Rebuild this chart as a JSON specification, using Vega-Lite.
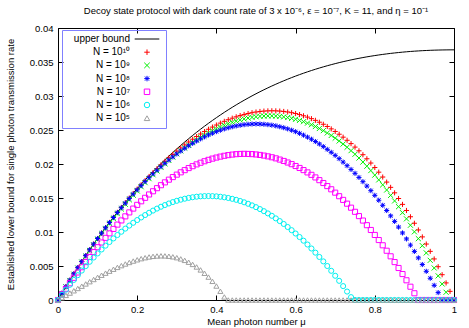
{
"$schema": "https://vega.github.io/schema/vega-lite/v6.json",
"width": 396, "height": 272,
"autosize": {"type": "none"},
"padding": {"left": 58, "top": 28, "right": 15, "bottom": 28},
"background": "white",
"config": {
  "view": {"stroke": "black", "strokeWidth": 1},
  "font": "Liberation Sans",
  "axis": {"grid": false, "domain": false, "tickColor": "black", "tickSize": -5, "tickWidth": 1, "labelColor": "black", "labelFont": "Liberation Sans", "labelFontSize": 9.5, "titleFont": "Liberation Sans", "titleFontSize": 9.5, "titleFontWeight": "normal", "titleColor": "black", "labelFlush": false, "labelOverlap": false, "labelBound": false}
},
"title": {"text": "Decoy state protocol with dark count rate of 3 x 10⁻⁶, ε = 10⁻⁷, K = 11, and η = 10⁻¹", "fontSize": 9.5, "fontWeight": "normal", "font": "Liberation Sans", "color": "black", "anchor": "middle", "frame": "group", "offset": 8},
"data": {"values": [
{"mu":0,"ub":0,"n10":0,"n9":0,"n8":0,"n7":0,"n6":0,"n5":0},
{"mu":0.01,"ub":0.00099,"n10":0.00099,"n9":0.000976,"n8":0.00099,"n7":0.000831,"n6":0.000762,"n5":0.00034},
{"mu":0.02,"ub":0.00196,"n10":0.00196,"n9":0.001932,"n8":0.00196,"n7":0.001653,"n6":0.001509,"n5":0.00068},
{"mu":0.03,"ub":0.002911,"n10":0.002911,"n9":0.002869,"n8":0.002911,"n7":0.002463,"n6":0.00224,"n5":0.00102},
{"mu":0.04,"ub":0.003843,"n10":0.003843,"n9":0.003787,"n8":0.003843,"n7":0.003262,"n6":0.002953,"n5":0.001358},
{"mu":0.05,"ub":0.004756,"n10":0.004756,"n9":0.004686,"n8":0.004755,"n7":0.004047,"n6":0.003648,"n5":0.001696},
{"mu":0.06,"ub":0.005651,"n10":0.005651,"n9":0.005567,"n8":0.005649,"n7":0.004818,"n6":0.004325,"n5":0.002031},
{"mu":0.07,"ub":0.006527,"n10":0.006526,"n9":0.006428,"n8":0.006524,"n7":0.005576,"n6":0.004984,"n5":0.002363},
{"mu":0.08,"ub":0.007385,"n10":0.007384,"n9":0.007272,"n8":0.00738,"n7":0.006319,"n6":0.005624,"n5":0.002692},
{"mu":0.09,"ub":0.008225,"n10":0.008223,"n9":0.008097,"n8":0.008217,"n7":0.007047,"n6":0.006244,"n5":0.003015},
{"mu":0.1,"ub":0.009048,"n10":0.009045,"n9":0.008905,"n8":0.009036,"n7":0.00776,"n6":0.006846,"n5":0.003334},
{"mu":0.11,"ub":0.009854,"n10":0.00985,"n9":0.009696,"n8":0.009836,"n7":0.008458,"n6":0.007428,"n5":0.003645},
{"mu":0.12,"ub":0.010643,"n10":0.010637,"n9":0.010469,"n8":0.010618,"n7":0.009138,"n6":0.00799,"n5":0.003948},
{"mu":0.13,"ub":0.011415,"n10":0.011406,"n9":0.011224,"n8":0.011381,"n7":0.009804,"n6":0.008532,"n5":0.004242},
{"mu":0.14,"ub":0.012171,"n10":0.012158,"n9":0.011962,"n8":0.012127,"n7":0.010453,"n6":0.009054,"n5":0.004525},
{"mu":0.15,"ub":0.012911,"n10":0.012894,"n9":0.012684,"n8":0.012853,"n7":0.011086,"n6":0.009557,"n5":0.004796},
{"mu":0.16,"ub":0.013634,"n10":0.013612,"n9":0.013388,"n8":0.013561,"n7":0.011701,"n6":0.010039,"n5":0.005054},
{"mu":0.17,"ub":0.014342,"n10":0.014313,"n9":0.014075,"n8":0.01425,"n7":0.0123,"n6":0.0105,"n5":0.005296},
{"mu":0.18,"ub":0.015035,"n10":0.014998,"n9":0.014746,"n8":0.014921,"n7":0.01288,"n6":0.010941,"n5":0.005522},
{"mu":0.19,"ub":0.015712,"n10":0.015665,"n9":0.015399,"n8":0.015573,"n7":0.013443,"n6":0.01136,"n5":0.005728},
{"mu":0.2,"ub":0.016375,"n10":0.016316,"n9":0.016036,"n8":0.016207,"n7":0.013989,"n6":0.01176,"n5":0.005915},
{"mu":0.21,"ub":0.017022,"n10":0.01695,"n9":0.016656,"n8":0.016821,"n7":0.014517,"n6":0.012138,"n5":0.006079},
{"mu":0.22,"ub":0.017655,"n10":0.017567,"n9":0.017259,"n8":0.017416,"n7":0.015027,"n6":0.012496,"n5":0.006219},
{"mu":0.23,"ub":0.018274,"n10":0.018167,"n9":0.017845,"n8":0.017993,"n7":0.015518,"n6":0.012832,"n5":0.006334},
{"mu":0.24,"ub":0.018879,"n10":0.018751,"n9":0.018415,"n8":0.01855,"n7":0.015991,"n6":0.013148,"n5":0.006419},
{"mu":0.25,"ub":0.01947,"n10":0.019318,"n9":0.018968,"n8":0.019088,"n7":0.016445,"n6":0.013442,"n5":0.006475},
{"mu":0.26,"ub":0.020047,"n10":0.019867,"n9":0.019503,"n8":0.019607,"n7":0.016882,"n6":0.013714,"n5":0.006498},
{"mu":0.27,"ub":0.020611,"n10":0.0204,"n9":0.020022,"n8":0.020106,"n7":0.017299,"n6":0.013965,"n5":0.006487},
{"mu":0.28,"ub":0.021162,"n10":0.020916,"n9":0.020524,"n8":0.020585,"n7":0.017697,"n6":0.014194,"n5":0.006438},
{"mu":0.29,"ub":0.0217,"n10":0.021415,"n9":0.021009,"n8":0.021046,"n7":0.018076,"n6":0.014402,"n5":0.00635},
{"mu":0.3,"ub":0.022225,"n10":0.021896,"n9":0.021476,"n8":0.021486,"n7":0.018435,"n6":0.014589,"n5":0.006221},
{"mu":0.31,"ub":0.022737,"n10":0.02236,"n9":0.021926,"n8":0.021905,"n7":0.018776,"n6":0.014751,"n5":0.006047},
{"mu":0.32,"ub":0.023237,"n10":0.022806,"n9":0.022358,"n8":0.022305,"n7":0.019097,"n6":0.014895,"n5":0.005827},
{"mu":0.33,"ub":0.023724,"n10":0.023234,"n9":0.022772,"n8":0.022683,"n7":0.019399,"n6":0.015016,"n5":0.005557},
{"mu":0.34,"ub":0.0242,"n10":0.023645,"n9":0.023169,"n8":0.023042,"n7":0.01968,"n6":0.015112,"n5":0.005234},
{"mu":0.35,"ub":0.024664,"n10":0.024038,"n9":0.023548,"n8":0.023381,"n7":0.019943,"n6":0.015191,"n5":0.004858},
{"mu":0.36,"ub":0.025116,"n10":0.024413,"n9":0.023909,"n8":0.023698,"n7":0.020185,"n6":0.015245,"n5":0.004424},
{"mu":0.37,"ub":0.025557,"n10":0.02477,"n9":0.024252,"n8":0.023995,"n7":0.020406,"n6":0.015277,"n5":0.00393},
{"mu":0.38,"ub":0.025987,"n10":0.025108,"n9":0.024576,"n8":0.024271,"n7":0.020609,"n6":0.015287,"n5":0.003371},
{"mu":0.39,"ub":0.026405,"n10":0.025427,"n9":0.024881,"n8":0.024525,"n7":0.02079,"n6":0.015275,"n5":0.002746},
{"mu":0.4,"ub":0.026813,"n10":0.025728,"n9":0.025168,"n8":0.024759,"n7":0.020945,"n6":0.015242,"n5":0.002054},
{"mu":0.41,"ub":0.02721,"n10":0.026009,"n9":0.025435,"n8":0.02497,"n7":0.021085,"n6":0.015184,"n5":0.001288},
{"mu":0.42,"ub":0.027596,"n10":0.026271,"n9":0.025683,"n8":0.02516,"n7":0.021207,"n6":0.015103,"n5":0.000449},
{"mu":0.43,"ub":0.027972,"n10":0.026514,"n9":0.025912,"n8":0.025328,"n7":0.021306,"n6":0.015002,"n5":0},
{"mu":0.44,"ub":0.028338,"n10":0.026737,"n9":0.026121,"n8":0.025475,"n7":0.021384,"n6":0.014878,"n5":0},
{"mu":0.45,"ub":0.028693,"n10":0.026939,"n9":0.026309,"n8":0.025599,"n7":0.021444,"n6":0.014731,"n5":0},
{"mu":0.46,"ub":0.029039,"n10":0.027122,"n9":0.026478,"n8":0.025702,"n7":0.021479,"n6":0.01456,"n5":0},
{"mu":0.47,"ub":0.029375,"n10":0.027284,"n9":0.026626,"n8":0.025782,"n7":0.021495,"n6":0.014367,"n5":0},
{"mu":0.48,"ub":0.029701,"n10":0.027425,"n9":0.026753,"n8":0.025839,"n7":0.021479,"n6":0.014152,"n5":0},
{"mu":0.49,"ub":0.030019,"n10":0.027547,"n9":0.026861,"n8":0.025876,"n7":0.021452,"n6":0.013916,"n5":0},
{"mu":0.5,"ub":0.030327,"n10":0.027646,"n9":0.026946,"n8":0.025889,"n7":0.021402,"n6":0.013654,"n5":0},
{"mu":0.51,"ub":0.030626,"n10":0.027725,"n9":0.027011,"n8":0.025879,"n7":0.021331,"n6":0.01337,"n5":0},
{"mu":0.52,"ub":0.030915,"n10":0.02778,"n9":0.027052,"n8":0.025845,"n7":0.021237,"n6":0.013064,"n5":0},
{"mu":0.53,"ub":0.031196,"n10":0.027815,"n9":0.027073,"n8":0.02579,"n7":0.021123,"n6":0.012733,"n5":0},
{"mu":0.54,"ub":0.031469,"n10":0.027828,"n9":0.027072,"n8":0.025712,"n7":0.020989,"n6":0.012383,"n5":0},
{"mu":0.55,"ub":0.031732,"n10":0.027817,"n9":0.027047,"n8":0.02561,"n7":0.020831,"n6":0.012003,"n5":0},
{"mu":0.56,"ub":0.031988,"n10":0.027784,"n9":0.027,"n8":0.025485,"n7":0.020649,"n6":0.011606,"n5":0},
{"mu":0.57,"ub":0.032235,"n10":0.027728,"n9":0.02693,"n8":0.025337,"n7":0.020447,"n6":0.011182,"n5":0},
{"mu":0.58,"ub":0.032474,"n10":0.027648,"n9":0.026836,"n8":0.025165,"n7":0.02022,"n6":0.010736,"n5":0},
{"mu":0.59,"ub":0.032705,"n10":0.027546,"n9":0.02672,"n8":0.02497,"n7":0.019977,"n6":0.010268,"n5":0},
{"mu":0.6,"ub":0.032929,"n10":0.02742,"n9":0.02658,"n8":0.024753,"n7":0.019705,"n6":0.009777,"n5":0},
{"mu":0.61,"ub":0.033144,"n10":0.027269,"n9":0.026415,"n8":0.02451,"n7":0.019416,"n6":0.00926,"n5":0},
{"mu":0.62,"ub":0.033352,"n10":0.027093,"n9":0.026225,"n8":0.024243,"n7":0.019103,"n6":0.008722,"n5":0},
{"mu":0.63,"ub":0.033553,"n10":0.026894,"n9":0.026012,"n8":0.023955,"n7":0.018764,"n6":0.008159,"n5":0},
{"mu":0.64,"ub":0.033747,"n10":0.02667,"n9":0.025774,"n8":0.023643,"n7":0.018405,"n6":0.007574,"n5":0},
{"mu":0.65,"ub":0.033933,"n10":0.02642,"n9":0.02551,"n8":0.023306,"n7":0.018025,"n6":0.006963,"n5":0},
{"mu":0.66,"ub":0.034112,"n10":0.026145,"n9":0.025221,"n8":0.022945,"n7":0.017624,"n6":0.006329,"n5":0},
{"mu":0.67,"ub":0.034285,"n10":0.025845,"n9":0.024907,"n8":0.022561,"n7":0.017203,"n6":0.005678,"n5":0},
{"mu":0.68,"ub":0.03445,"n10":0.025518,"n9":0.024566,"n8":0.022151,"n7":0.01675,"n6":0.004999,"n5":0},
{"mu":0.69,"ub":0.034609,"n10":0.025164,"n9":0.024198,"n8":0.021719,"n7":0.016282,"n6":0.004293,"n5":0},
{"mu":0.7,"ub":0.034761,"n10":0.024786,"n9":0.023806,"n8":0.021264,"n7":0.015787,"n6":0.003564,"n5":0},
{"mu":0.71,"ub":0.034906,"n10":0.024379,"n9":0.023385,"n8":0.020784,"n7":0.015266,"n6":0.002817,"n5":0},
{"mu":0.72,"ub":0.035046,"n10":0.023947,"n9":0.022939,"n8":0.020279,"n7":0.014723,"n6":0.002043,"n5":0},
{"mu":0.73,"ub":0.035179,"n10":0.023486,"n9":0.022464,"n8":0.019752,"n7":0.014166,"n6":0.001241,"n5":0},
{"mu":0.74,"ub":0.035306,"n10":0.022999,"n9":0.021963,"n8":0.019199,"n7":0.013575,"n6":0.000421,"n5":0},
{"mu":0.75,"ub":0.035428,"n10":0.022484,"n9":0.021434,"n8":0.018626,"n7":0.01297,"n6":0,"n5":0},
{"mu":0.76,"ub":0.035543,"n10":0.021941,"n9":0.020877,"n8":0.018025,"n7":0.012337,"n6":0,"n5":0},
{"mu":0.77,"ub":0.035652,"n10":0.021369,"n9":0.020291,"n8":0.017401,"n7":0.011682,"n6":0,"n5":0},
{"mu":0.78,"ub":0.035756,"n10":0.02077,"n9":0.019678,"n8":0.016754,"n7":0.011,"n6":0,"n5":0},
{"mu":0.79,"ub":0.035853,"n10":0.020142,"n9":0.019036,"n8":0.016083,"n7":0.010297,"n6":0,"n5":0},
{"mu":0.8,"ub":0.035946,"n10":0.019485,"n9":0.018365,"n8":0.015388,"n7":0.009566,"n6":0,"n5":0},
{"mu":0.81,"ub":0.036034,"n10":0.018799,"n9":0.017665,"n8":0.01467,"n7":0.008817,"n6":0,"n5":0},
{"mu":0.82,"ub":0.036115,"n10":0.018084,"n9":0.016936,"n8":0.013926,"n7":0.008045,"n6":0,"n5":0},
{"mu":0.83,"ub":0.036192,"n10":0.01734,"n9":0.016178,"n8":0.013162,"n7":0.007243,"n6":0,"n5":0},
{"mu":0.84,"ub":0.036264,"n10":0.016565,"n9":0.015389,"n8":0.012372,"n7":0.006425,"n6":0,"n5":0},
{"mu":0.85,"ub":0.03633,"n10":0.01576,"n9":0.01457,"n8":0.01156,"n7":0.005574,"n6":0,"n5":0},
{"mu":0.86,"ub":0.036392,"n10":0.014925,"n9":0.013721,"n8":0.010724,"n7":0.004706,"n6":0,"n5":0},
{"mu":0.87,"ub":0.036449,"n10":0.014062,"n9":0.012844,"n8":0.009862,"n7":0.003818,"n6":0,"n5":0},
{"mu":0.88,"ub":0.036501,"n10":0.013166,"n9":0.011934,"n8":0.00898,"n7":0.002899,"n6":0,"n5":0},
{"mu":0.89,"ub":0.036549,"n10":0.012241,"n9":0.010995,"n8":0.008073,"n7":0.001953,"n6":0,"n5":0},
{"mu":0.9,"ub":0.036591,"n10":0.011286,"n9":0.010026,"n8":0.007145,"n7":0.00099,"n6":0,"n5":0},
{"mu":0.91,"ub":0.036629,"n10":0.010299,"n9":0.009025,"n8":0.006192,"n7":0,"n6":0,"n5":0},
{"mu":0.92,"ub":0.036664,"n10":0.009279,"n9":0.007991,"n8":0.005216,"n7":0,"n6":0,"n5":0},
{"mu":0.93,"ub":0.036693,"n10":0.00823,"n9":0.006928,"n8":0.004218,"n7":0,"n6":0,"n5":0},
{"mu":0.94,"ub":0.036719,"n10":0.007151,"n9":0.005835,"n8":0.003198,"n7":0,"n6":0,"n5":0},
{"mu":0.95,"ub":0.03674,"n10":0.006038,"n9":0.004708,"n8":0.002156,"n7":0,"n6":0,"n5":0},
{"mu":0.96,"ub":0.036757,"n10":0.004894,"n9":0.00355,"n8":0.001089,"n7":0,"n6":0,"n5":0},
{"mu":0.97,"ub":0.036771,"n10":0.003718,"n9":0.00236,"n8":0,"n7":0,"n6":0,"n5":0},
{"mu":0.98,"ub":0.03678,"n10":0.002512,"n9":0.00114,"n8":0,"n7":0,"n6":0,"n5":0},
{"mu":0.99,"ub":0.036786,"n10":0.001272,"n9":0,"n8":0,"n7":0,"n6":0,"n5":0},
{"mu":1,"ub":0.036788,"n10":0,"n9":0,"n8":0,"n7":0,"n6":0,"n5":0}
]},
"resolve": {"axis": {"x": "independent", "y": "independent"}},
"layer": [
  {
    "mark": {"type": "line", "color": "black", "strokeWidth": 1, "clip": false},
    "encoding": {
      "x": {"field": "mu", "type": "quantitative", "scale": {"domain": [0, 1], "nice": false, "zero": false},
            "axis": {"values": [0, 0.2, 0.4, 0.6, 0.8, 1], "format": "~g", "title": "Mean photon number μ", "labelPadding": 9, "titlePadding": 3}},
      "y": {"field": "ub", "type": "quantitative", "scale": {"domain": [0, 0.04], "nice": false},
            "axis": {"values": [0, 0.005, 0.01, 0.015, 0.02, 0.025, 0.03, 0.035, 0.04], "format": "~g", "title": "Established lower bound for single photon transmission rate", "labelPadding": 10, "titlePadding": 14}}
    }
  },
  {
    "transform": [{"fold": ["n10", "n9", "n8", "n7", "n6", "n5"], "as": ["series", "val"]}],
    "mark": {"type": "point", "filled": false, "strokeWidth": 1, "size": 26, "opacity": 1, "clip": false},
    "encoding": {
      "x": {"field": "mu", "type": "quantitative",
            "axis": {"orient": "top", "values": [0, 0.2, 0.4, 0.6, 0.8, 1], "labels": false, "title": null}},
      "y": {"field": "val", "type": "quantitative",
            "axis": {"orient": "right", "values": [0, 0.005, 0.01, 0.015, 0.02, 0.025, 0.03, 0.035, 0.04], "labels": false, "title": null}},
      "color": {"field": "series", "type": "nominal",
                "scale": {"domain": ["ub", "n10", "n9", "n8", "n7", "n6", "n5"], "range": ["#000000", "#ff0000", "#00f000", "#0000ff", "#ff00ff", "#00f0f0", "#a0a0a0"]},
                "legend": {"orient": "none", "legendX": 4, "legendY": 2, "title": null,
                           "labelExpr": "datum.label == 'ub' ? 'upper bound' : datum.label == 'n10' ? 'N = 10¹⁰' : datum.label == 'n9' ? 'N = 10⁹' : datum.label == 'n8' ? 'N = 10⁸' : datum.label == 'n7' ? 'N = 10⁷' : datum.label == 'n6' ? 'N = 10⁶' : 'N = 10⁵'",
                           "labelAlign": "right", "labelOffset": -22, "symbolOffset": 76,
                           "strokeColor": "#8080ff", "padding": 4, "rowPadding": 3.2,
                           "labelFontSize": 10, "labelFont": "Liberation Sans", "labelColor": "black",
                           "symbolStrokeWidth": 1, "symbolSize": 30}},
      "shape": {"field": "series", "type": "nominal",
                "scale": {"domain": ["ub", "n10", "n9", "n8", "n7", "n6", "n5"], "range": ["M-4.5,0H4.5", "M-1,0H1M0,-1V1", "M-1,-1L1,1M-1,1L1,-1", "M-1,0H1M0,-1V1M-0.75,-0.75L0.75,0.75M-0.75,0.75L0.75,-0.75", "square", "circle", "triangle-up"]},
                "legend": {"orient": "none", "legendX": 4, "legendY": 2, "title": null,
                           "labelExpr": "datum.label == 'ub' ? 'upper bound' : datum.label == 'n10' ? 'N = 10¹⁰' : datum.label == 'n9' ? 'N = 10⁹' : datum.label == 'n8' ? 'N = 10⁸' : datum.label == 'n7' ? 'N = 10⁷' : datum.label == 'n6' ? 'N = 10⁶' : 'N = 10⁵'",
                           "labelAlign": "right", "labelOffset": -22, "symbolOffset": 76,
                           "strokeColor": "#8080ff", "padding": 4, "rowPadding": 3.2,
                           "labelFontSize": 10, "labelFont": "Liberation Sans", "labelColor": "black",
                           "symbolStrokeWidth": 1, "symbolSize": 30}}
    }
  }
]
}
